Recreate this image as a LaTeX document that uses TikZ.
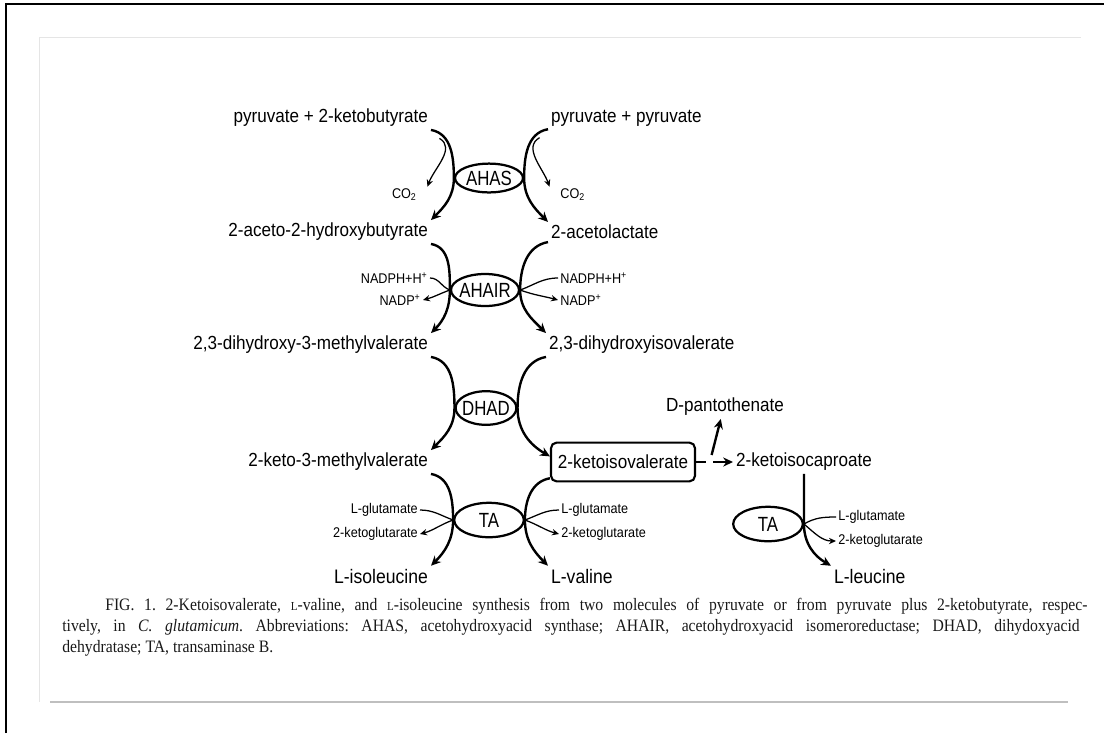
\documentclass[tikz,border=0pt]{standalone}
\usepackage{fontspec}
\setmainfont{Liberation Sans}[FakeStretch=0.9]
\newfontfamily\enzfont[FakeStretch=0.82]{Liberation Sans}
\newfontfamily\capfont[FakeStretch=0.9]{Liberation Serif}
\usetikzlibrary{arrows.meta,shapes.geometric}
\frenchspacing
\newcommand\smallL{{\fontsize{8.7}{10}\selectfont L}}
\tikzstyle{met}=[font=\fontsize{13.5}{15}\selectfont, inner sep=2pt]
\tikzstyle{prod}=[font=\fontsize{13.9}{15}\selectfont, inner sep=2pt]
\tikzstyle{cof}=[font=\fontsize{10}{11}\selectfont, inner sep=1.5pt]
\tikzstyle{enz}=[draw, ellipse, line width=1.6pt, minimum width=1.7cm, minimum height=0.75cm, inner sep=0pt, font=\enzfont\fontsize{14.6}{16}\selectfont]
\tikzstyle{flux}=[line width=1.7pt, -{Stealth[length=7pt,width=6.5pt]}]
\tikzstyle{side}=[line width=0.9pt, -{Stealth[length=5pt,width=4.5pt]}]
\tikzstyle{feed}=[line width=0.9pt]
\tikzstyle{figcap}=[font=\capfont\fontsize{12.4}{14}\selectfont, inner sep=0pt, text=black!90]

\begin{document}
\begin{tikzpicture}[x=0.025cm, y=-0.025cm]
    \useasboundingbox (0,0) rectangle (1104,733);

    % page frame
    \draw [line width=1.4pt] (6,733) -- (6,4) -- (1104,4);
    \draw [black!10, line width=0.7pt] (39,702) -- (39,37) -- (1081,37);
    \draw [black!25, line width=1.8pt] (50,702) -- (1068,702);

    % left branch
    \node [met, anchor=east] (pkb) at (431,118) {pyruvate + 2-ketobutyrate};
    \node [met, anchor=east] (ahb) at (431,232) {2-aceto-2-hydroxybutyrate};
    \node [met, anchor=east] (dmv) at (431,345) {2,3-dihydroxy-3-methylvalerate};
    \node [met, anchor=east] (kmv) at (431,462) {2-keto-3-methylvalerate};
    \node [prod, anchor=east] (ile) at (431,576) {L-isoleucine};

    % right branch
    \node [met, anchor=west] (pyr) at (548,118) {pyruvate + pyruvate};
    \node [met, anchor=west] (alac) at (548,232) {2-acetolactate};
    \node [met, anchor=west] (div) at (546,345) {2,3-dihydroxyisovalerate};
    \node [met, draw, rounded corners=4pt, line width=1.5pt, minimum width=3.6cm, minimum height=0.97cm] (kiv) at (623,462) {2-ketoisovalerate};
    \node [prod, anchor=west] (val) at (548,576) {L-valine};
    \node [met] (pan) at (725,407) {D-pantothenate};
    \node [met, anchor=west] (kic) at (733,462) {2-ketoisocaproate};
    \node [prod, anchor=west] (leu) at (831,576) {L-leucine};
    \coordinate (br) at (706,462);

    % enzymes
    \node [enz, minimum height=0.72cm] (ahas) at (489,178) {\makebox[0pt]{AHAS}};
    \node [enz, minimum height=0.8cm] (ahair) at (485,290) {\makebox[0pt]{AHAIR}};
    \node [enz, minimum width=1.52cm, minimum height=0.84cm] (dhad) at (486,408) {\makebox[0pt]{DHAD}};
    \node [enz, minimum width=1.74cm, minimum height=0.86cm] (ta) at (489,520) {\makebox[0pt]{TA}};
    \node [enz, minimum width=1.74cm, minimum height=0.86cm] (tal) at (768,524) {\makebox[0pt]{TA}};

    % cofactors
    \node [cof, anchor=east] (co2a) at (419,195) {CO\textsubscript{2}};
    \node [cof, anchor=west] (co2b) at (558,195) {CO\textsubscript{2}};
    \node [cof, anchor=east] (nphl) at (430,278) {NADPH+H\textsuperscript{+}};
    \node [cof, anchor=east] (npl) at (423,300) {NADP\textsuperscript{+}};
    \node [cof, anchor=west] (nphr) at (558,278) {NADPH+H\textsuperscript{+}};
    \node [cof, anchor=west] (npr) at (558,300) {NADP\textsuperscript{+}};
    \node [cof, anchor=east] (glul) at (420,510) {L-glutamate};
    \node [cof, anchor=east] (kgl) at (420,534) {2-ketoglutarate};
    \node [cof, anchor=west] (glur) at (559,510) {L-glutamate};
    \node [cof, anchor=west] (kgr) at (559,534) {2-ketoglutarate};
    \node [cof, anchor=west] (glu2) at (836,517) {L-glutamate};
    \node [cof, anchor=west] (kg2) at (836,541) {2-ketoglutarate};

    % AHAS
    \draw [flux] (pkb.south east) to[out=-10,in=90] (ahas.west) to[out=-90,in=45] (ahb.north east);
    \draw [flux] (pyr.south west) to[out=190,in=90] (ahas.east) to[out=-90,in=135] (alac.north west);
    \draw [side] ([shift={(6pt,-6pt)}]pkb.south east) to[out=-30,in=70] ([xshift=6pt]co2a.north east);
    \draw [side] ([shift={(-6pt,-6pt)}]pyr.south west) to[out=210,in=110] ([xshift=-6pt]co2b.north west);

    % AHAIR
    \draw [flux] (ahb.south east) to[out=-10,in=90] (ahair.west) to[out=-90,in=45] (dmv.north east);
    \draw [flux] (alac.south west) to[out=190,in=90] (ahair.east) to[out=-90,in=135] (div.north west);
    \draw [feed] (nphl.east) to[out=0,in=160] (ahair.west);
    \draw [side] (ahair.west) to[out=200,in=15] (npl.east);
    \draw [feed] (nphr.west) to[out=180,in=20] (ahair.east);
    \draw [side] (ahair.east) to[out=-20,in=165] (npr.west);

    % DHAD
    \draw [flux] (dmv.south east) to[out=-10,in=90] (dhad.west) to[out=-90,in=45] (kmv.north east);
    \draw [flux] (div.south west) to[out=190,in=90] (dhad.east) to[out=-90,in=150] ([yshift=4pt]kiv.west);

    % TA
    \draw [flux] (kmv.south east) to[out=-10,in=90] (ta.west) to[out=-90,in=45] (ile.north east);
    \draw [flux] ([yshift=3pt]kiv.south west) to[out=190,in=90] (ta.east) to[out=-90,in=135] (val.north west);
    \draw [feed] (glul.east) to[out=0,in=160] (ta.west);
    \draw [side] (ta.west) to[out=200,in=15] (kgl.east);
    \draw [feed] (glur.west) to[out=180,in=20] (ta.east);
    \draw [side] (ta.east) to[out=-20,in=165] (kgr.west);

    % leucine branch
    \draw [line width=1.5pt] (kiv.east) -- (br);
    \draw [flux] ([shift={(4pt,5pt)}]br) -- ([xshift=-3pt]pan.south);
    \draw [flux] ([xshift=5pt]br) -- (kic.west);
    \draw [flux] (kic.south) -- (tal.east) to[out=-90,in=150] (leu.north west);
    \draw [feed] (glu2.west) to[out=180,in=30] (tal.east);
    \draw [side] (tal.east) to[out=-40,in=180] (kg2.west);

    % caption
    \node [figcap, anchor=base west] (cl1) at (105,610) {\hbox to 24.55cm{FIG. 1. 2-Ketoisovalerate, \smallL-valine, and \smallL-isoleucine synthesis from two molecules of pyruvate or from pyruvate plus 2-ketobutyrate, respec-}};
    \node [figcap, anchor=base west] (cl2) at (62,631) {\hbox to 25.43cm{tively, in \textit{C. glutamicum}. Abbreviations: AHAS, acetohydroxyacid synthase; AHAIR, acetohydroxyacid isomeroreductase; DHAD, dihydoxyacid}};
    \node [figcap, anchor=base west] (cl3) at (62,652) {dehydratase; TA, transaminase B.};
\end{tikzpicture}
\end{document}
